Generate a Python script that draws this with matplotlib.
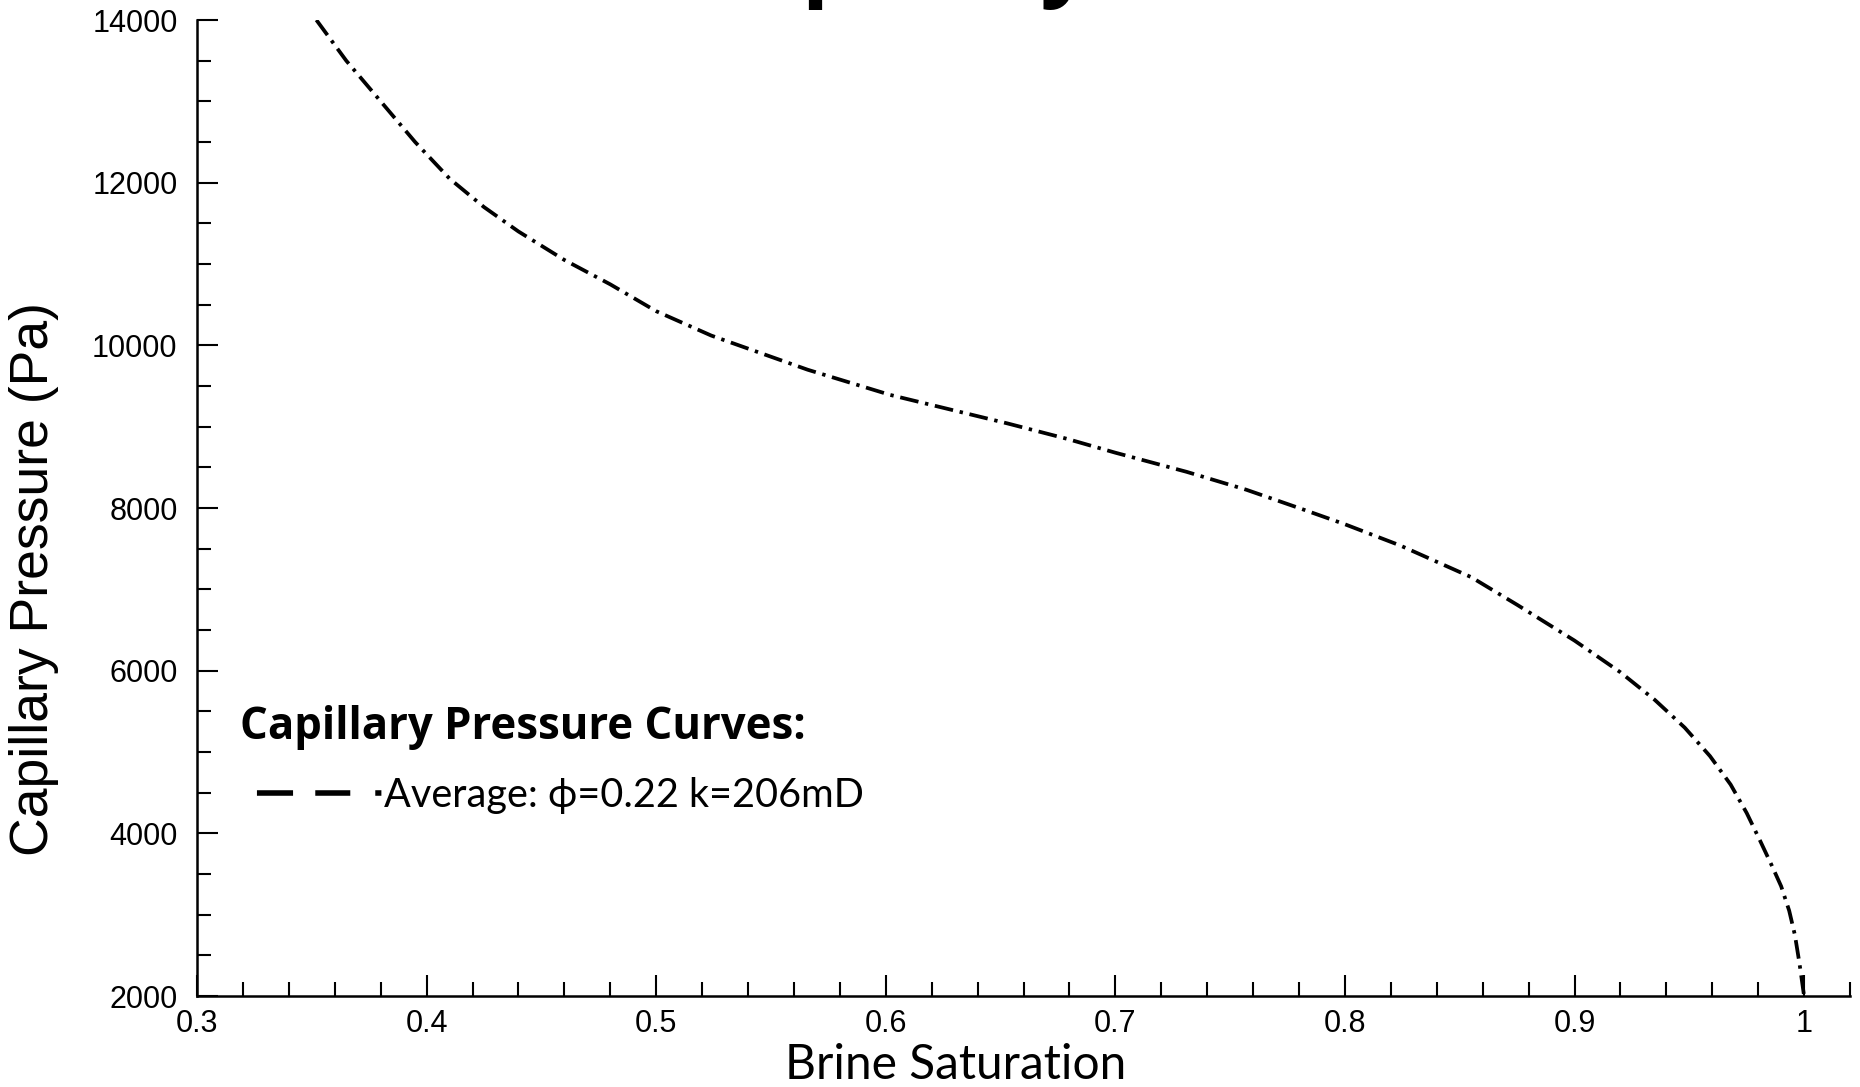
import numpy as np
import matplotlib.pyplot as plt
from matplotlib.lines import Line2D
from matplotlib.ticker import MultipleLocator

# Brine saturation vs capillary pressure
sat = [0.352, 0.365, 0.380, 0.395, 0.410, 0.425, 0.440, 0.460, 0.480, 0.500,
       0.524, 0.566, 0.602, 0.653, 0.679, 0.700, 0.731, 0.757, 0.782, 0.800,
       0.824, 0.855, 0.875, 0.900, 0.920, 0.935, 0.948, 0.959, 0.968, 0.975,
       0.981, 0.986, 0.990, 0.9935, 0.996, 0.998, 0.9995, 1.0]
pc = [14000, 13500, 13000, 12500, 12050, 11700, 11400, 11050, 10750, 10420,
      10120, 9700, 9390, 9040, 8850, 8680, 8445, 8225, 7980, 7800,
      7540, 7150, 6810, 6370, 5980, 5640, 5300, 4950, 4600, 4250,
      3900, 3600, 3350, 3050, 2750, 2400, 2100, 2000]

curve_label = "Average: \u03d5=0.22 k=206mD"
legend_title = "Capillary Pressure Curves:"

fig = plt.figure(figsize=(18.6, 10.87), dpi=100)
ax = fig.add_axes([197/1860, 1 - 996/1087, (1850 - 197)/1860, (996 - 20)/1087])

ax.plot(sat, pc, color='black', lw=2.7, linestyle=(0, (5, 1.8, 0.9, 1.8)))

ax.set_xlim(0.3, 1.02)
ax.set_ylim(2000, 14000)
ax.xaxis.set_minor_locator(MultipleLocator(0.02))
ax.yaxis.set_major_locator(MultipleLocator(2000))
ax.yaxis.set_minor_locator(MultipleLocator(500))
ax.set_xticks([0.3, 0.4, 0.5, 0.6, 0.7, 0.8, 0.9, 1.0])
ax.set_xticklabels(['0.3', '0.4', '0.5', '0.6', '0.7', '0.8', '0.9', '1'])

for s in ['top', 'right']:
    ax.spines[s].set_visible(False)
for s in ['left', 'bottom']:
    ax.spines[s].set_linewidth(1.8)

ax.tick_params(which='major', direction='in', length=15, width=1.5, labelsize=22,
               labelfontfamily='Liberation Sans')
ax.tick_params(which='minor', direction='in', length=10, width=1.5)
ax.tick_params(axis='y', which='major', pad=14)
ax.tick_params(axis='x', which='major', pad=9)

ax.set_xlabel('Brine Saturation', fontsize=34.5, family=['Lato', 'DejaVu Sans'])
ax.xaxis.set_label_coords((956 - 197)/1653, -0.048)
ax.set_ylabel('Capillary Pressure (Pa)', fontsize=38.5,
              family=['Liberation Sans Narrow', 'Liberation Sans'])
ax.yaxis.set_label_coords(-0.0835, 0.427)

handle = Line2D([], [], color='black', lw=4,
                linestyle=(1.1, (1.1, 3.05, 6.5, 4.0, 6.3, 4.5)))
leg = ax.legend([handle], [curve_label], title=legend_title, frameon=False,
                loc='upper left', bbox_to_anchor=(240/1860, 1 - 705/1087),
                bbox_transform=fig.transFigure, alignment='left',
                prop={'family': ['Lato', 'DejaVu Sans'], 'size': 28.5},
                title_fontproperties={'family': ['Open Sans', 'DejaVu Sans'],
                                      'size': 31.5, 'weight': 'bold'},
                handlelength=3.6, handletextpad=0.05, borderpad=0, borderaxespad=0,
                labelspacing=0.69)

# title mostly cut off at the top of the picture
fig.text(688/1860, 1.011, 'Capillary Pressure', fontsize=66, fontweight='bold',
         family=['Open Sans', 'DejaVu Sans'], ha='left', va='baseline')

fig.savefig('out.png', dpi=100)
